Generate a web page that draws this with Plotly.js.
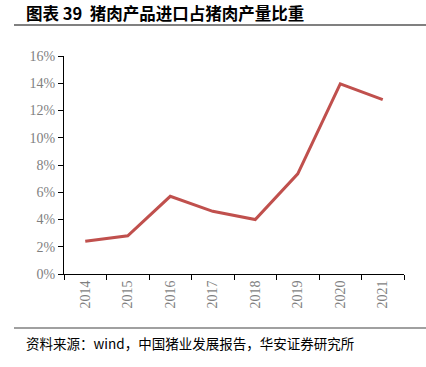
<!DOCTYPE html>
<html><head><meta charset="utf-8">
<script src="https://cdn.plot.ly/plotly-3.0.1.min.js"></script>
<style>html,body{margin:0;padding:0;background:#fff;}#chart{width:426px;height:367px;}</style>
</head><body><div id="chart"></div>
<script>
const years = ['2014','2015','2016','2017','2018','2019','2020','2021'];
const share = [2.4, 2.8, 5.7, 4.6, 4.0, 7.35, 13.95, 12.8];
const yTicks = [0,2,4,6,8,10,12,14,16];
const yTickText = yTicks.map(v => v + '%');

const L = 64, R = 404, T = 56, B = 274;
const W = R - L, H = B - T;
const px = x => (x - L) / W;
const py = y => (B - y) / H;

const trace = {
  x: years, y: share, type: 'scatter', mode: 'lines',
  line: {color: '#C0504D', width: 3}
};
const layout = {
  width: 426, height: 367,
  margin: {l: L, r: 426 - R, t: T, b: 367 - B},
  paper_bgcolor: '#fff', plot_bgcolor: '#fff',
  showlegend: false,
  xaxis: {
    type: 'category', range: [-0.5, years.length - 0.5], tickson: 'boundaries', ticks: 'outside', ticklen: 5,
    tickcolor: '#000', showline: true, linecolor: '#000', linewidth: 1,
    showgrid: false, zeroline: false, tickangle: -90,
    tickfont: {family: 'Liberation Serif', size: 14, color: '#7f7f7f'}
  },
  yaxis: {
    range: [0, 16], tickvals: yTicks, ticktext: yTickText,
    ticks: 'outside', ticklen: 5, tickcolor: '#000',
    showline: true, linecolor: '#000', linewidth: 1,
    showgrid: false, zeroline: false,
    tickfont: {family: 'Liberation Serif', size: 14, color: '#7f7f7f'}
  },
  shapes: [
    {type: 'line', xref: 'paper', yref: 'paper', x0: px(14), x1: px(426), y0: py(25), y1: py(25), line: {color: '#808080', width: 2}},
    {type: 'line', xref: 'paper', yref: 'paper', x0: px(14), x1: px(426), y0: py(328), y1: py(328), line: {color: '#808080', width: 1.5}}
  ],
  annotations: [
    {text: '<b>图表 39  猪肉产品进口占猪肉产量比重</b>', xref: 'paper', yref: 'paper', x: px(24), y: py(13), xanchor: 'left', yanchor: 'middle', showarrow: false,
     font: {family: 'Noto Sans CJK SC', size: 16.5, color: '#000'}},
    {text: '资料来源：wind，中国猪业发展报告，华安证券研究所', xref: 'paper', yref: 'paper', x: px(24), y: py(343), xanchor: 'left', yanchor: 'middle', showarrow: false,
     font: {family: 'Noto Sans CJK SC', size: 13.5, color: '#000'}}
  ]
};
Plotly.newPlot('chart', [trace], layout, {staticPlot: true});
</script></body></html>
